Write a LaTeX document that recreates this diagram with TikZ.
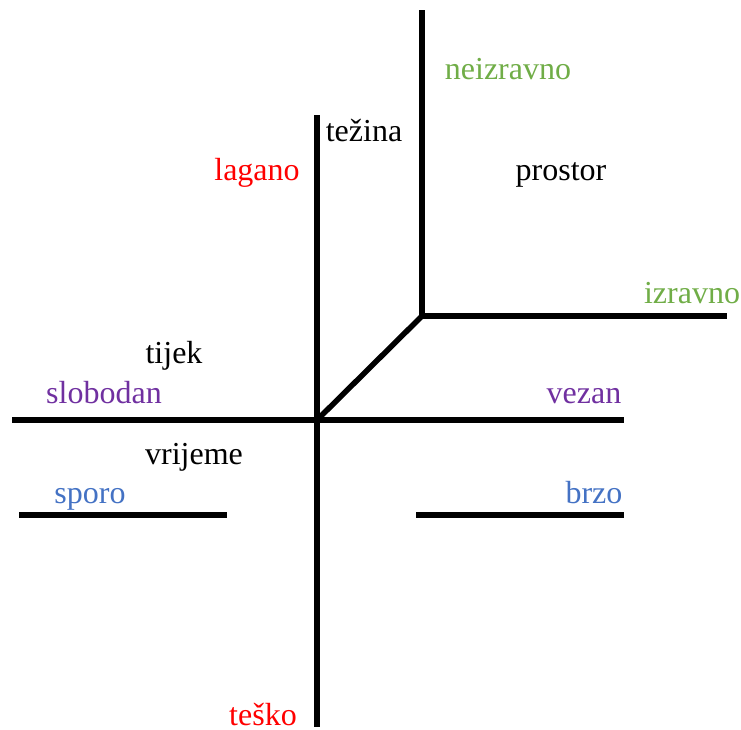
\documentclass[tikz,border=0pt]{standalone}
\usepackage{fontspec}
\setmainfont{Liberation Serif}
\usepackage{xcolor}
\usetikzlibrary{positioning}
\definecolor{efgreen}{RGB}{112,173,71}
\definecolor{efpurple}{RGB}{112,48,160}
\definecolor{efblue}{RGB}{68,114,196}
\tikzset
{
    axis/.style  = {line width=5.5pt, black},
    label/.style = {anchor=base, inner sep=0pt, font=\fontsize{32}{36}\selectfont}
}

\begin{document}
\begin{tikzpicture}[x=1pt, y=-1pt]
    \useasboundingbox (0,0) rectangle (741,729);
    % axes
    \coordinate (o) at (317,420);
    \coordinate (c) at (422,316);
    \coordinate (wtop) at (317,115);
    \coordinate (wbot) at (317,727);
    \coordinate (fleft) at (12,420);
    \coordinate (fright) at (624,420);
    \coordinate (stop) at (422,10);
    \coordinate (sright) at (727,316);
    \coordinate (tl1) at (19,515);
    \coordinate (tl2) at (227,515);
    \coordinate (tr1) at (416,515);
    \coordinate (tr2) at (624,515);
    \draw [axis] (wtop) -- (wbot);
    \draw [axis] (fleft) -- (fright);
    \draw [axis] (o) -- (c);
    \draw [axis] (stop) -- (c) -- (sright);
    \draw [axis] (tl1) -- (tl2);
    \draw [axis] (tr1) -- (tr2);
    % labels
    \node [label] (tezina) at (364,141) {težina};
    \node [label,red] (lagano) at (257,180) {lagano};
    \node [label,red] (tesko) at (263,725) {teško};
    \node [label,efgreen] (neizravno) at (508,79) {neizravno};
    \node [label] (prostor) at (561,180) {prostor};
    \node [label,efgreen] (izravno) at (692,303) {izravno};
    \node [label] (tijek) at (174,363) {tijek};
    \node [label,efpurple] (slobodan) at (104,403) {slobodan};
    \node [label,efpurple] (vezan) at (584,403) {vezan};
    \node [label] (vrijeme) at (194,464) {vrijeme};
    \node [label,efblue] (sporo) at (90,503) {sporo};
    \node [label,efblue] (brzo) at (594,503) {brzo};
\end{tikzpicture}
\end{document}
